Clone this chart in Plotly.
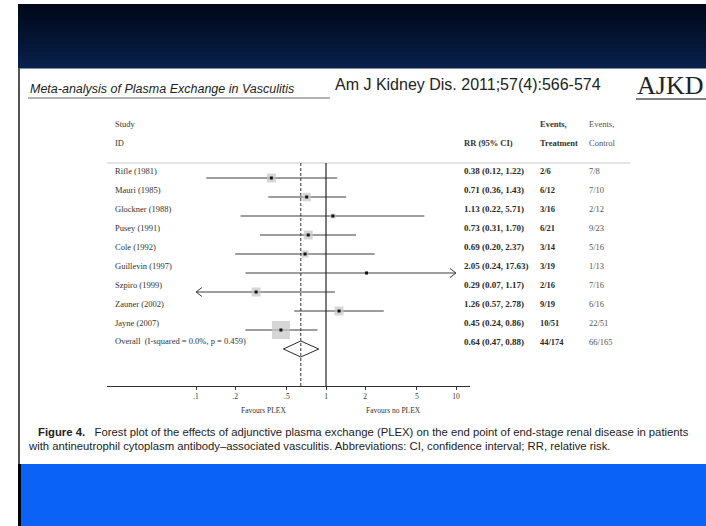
import math
import plotly.graph_objects as go

# ---------------- data ----------------
studies = ["Rifle (1981)", "Mauri (1985)", "Glockner (1988)", "Pusey (1991)", "Cole (1992)",
           "Guillevin (1997)", "Szpiro (1999)", "Zauner (2002)", "Jayne (2007)"]
rr = [0.38, 0.71, 1.13, 0.73, 0.69, 2.05, 0.29, 1.26, 0.45]
ci_lo = [0.12, 0.36, 0.22, 0.31, 0.20, 0.24, 0.07, 0.57, 0.24]
ci_hi = [1.22, 1.43, 5.71, 1.70, 2.37, 17.63, 1.17, 2.78, 0.86]
events_trt = ["2/6", "6/12", "3/16", "6/21", "3/14", "3/19", "2/16", "9/19", "10/51"]
events_ctl = ["7/8", "7/10", "2/12", "9/23", "5/16", "1/13", "7/16", "6/16", "22/51"]
weights = [9.0, 8.0, 2.8, 9.0, 5.5, 1.0, 9.0, 9.0, 36.0]  # approx. % weight (box area)

overall_label = "Overall  (I-squared = 0.0%, p = 0.459)"
overall_rr, overall_lo, overall_hi = 0.64, 0.47, 0.88
overall_trt, overall_ctl = "44/174", "66/165"

tick_vals = [0.1, 0.2, 0.5, 1, 2, 5, 10]
tick_text = [".1", ".2", ".5", "1", "2", "5", "10"]
x_min, x_max = 0.1, 10

W, H = 706, 526
SERIF = "Liberation Serif"
SANS = "Liberation Sans"


def px(x):
    return x / W


def py(y):
    return 1 - y / H


# layout geometry (pixels)
ROW0, ROWSTEP = 178, 19
AX_L, AX_R = 107, 470
X1_PX, DEC_PX = 326, 130
TOP_PX, AXIS_PX = 163, 386

n = len(studies)
rows = [-i for i in range(n)]
row_overall = -n

x_range = [(AX_L - X1_PX) / DEC_PX, (AX_R - X1_PX) / DEC_PX]
y_range = [-(AXIS_PX - ROW0) / ROWSTEP, -(TOP_PX - ROW0) / ROWSTEP]

fig = go.Figure()

# CI lines (clipped to axis range)
xs, ys = [], []
for v, lo, hi in zip(rows, ci_lo, ci_hi):
    xs += [max(lo, x_min), min(hi, x_max), None]
    ys += [v, v, None]
fig.add_trace(go.Scatter(x=xs, y=ys, mode="lines", line=dict(color="#3c3c3c", width=1),
                         hoverinfo="skip", showlegend=False))

# arrows for clipped CIs
d = 6 / DEC_PX
h = 4.5 / ROWSTEP
ax_, ay_ = [], []
for v, lo, hi in zip(rows, ci_lo, ci_hi):
    if lo < x_min:
        ax_ += [x_min * 10 ** d, x_min, x_min * 10 ** d, None]
        ay_ += [v + h, v, v - h, None]
    if hi > x_max:
        ax_ += [x_max / 10 ** d, x_max, x_max / 10 ** d, None]
        ay_ += [v + h, v, v - h, None]
fig.add_trace(go.Scatter(x=ax_, y=ay_, mode="lines", line=dict(color="#3c3c3c", width=1),
                         hoverinfo="skip", showlegend=False))

# weight boxes
sizes = [3.0 * math.sqrt(w) for w in weights]
fig.add_trace(go.Scatter(x=rr, y=rows, mode="markers",
                         marker=dict(symbol="square", size=sizes, color="#c4c4c4",
                                     line=dict(width=0)),
                         hoverinfo="skip", showlegend=False))
fig.add_trace(go.Scatter(x=rr, y=rows, mode="markers",
                         marker=dict(symbol="square", size=3, color="#111111"),
                         hoverinfo="skip", showlegend=False))

# overall diamond
dh = 8 / ROWSTEP
fig.add_trace(go.Scatter(x=[overall_lo, overall_rr, overall_hi, overall_rr, overall_lo],
                         y=[row_overall, row_overall + dh, row_overall, row_overall - dh, row_overall],
                         mode="lines", fill="toself", fillcolor="white",
                         line=dict(color="#2a2a2a", width=1), hoverinfo="skip", showlegend=False))

shapes = []
# background bands
top_c = (0, 8, 26)
bot_c = (8, 32, 74)
nstripe = 16
for k in range(nstripe):
    t = k / (nstripe - 1)
    c = tuple(int(top_c[j] + (bot_c[j] - top_c[j]) * t) for j in range(3))
    y0 = 4 + (68 - 4) * k / nstripe
    y1 = 4 + (68 - 4) * (k + 1) / nstripe
    shapes.append(dict(type="rect", xref="paper", yref="paper", x0=px(18), x1=1,
                       y0=py(y1 + 0.5), y1=py(y0), fillcolor="rgb(%d,%d,%d)" % c,
                       line=dict(width=0), layer="below"))
shapes.append(dict(type="rect", xref="paper", yref="paper", x0=px(20), x1=1, y0=0, y1=py(464),
                   fillcolor="#0a62f6", line=dict(width=0), layer="below"))
shapes.append(dict(type="line", xref="paper", yref="paper", x0=px(19), x1=px(19), y0=py(464), y1=py(68),
                   line=dict(color="#555555", width=2)))
shapes.append(dict(type="line", xref="paper", yref="paper", x0=px(19.5), x1=px(19.5), y0=0, y1=py(464),
                   line=dict(color="#000000", width=3)))
# header underlines
shapes.append(dict(type="line", xref="paper", yref="paper", x0=px(28), x1=px(330), y0=py(98), y1=py(98),
                   line=dict(color="#666666", width=1)))
shapes.append(dict(type="line", xref="paper", yref="paper", x0=px(636), x1=1, y0=py(99), y1=py(99),
                   line=dict(color="#555555", width=1.5)))
# table header rule
shapes.append(dict(type="line", xref="paper", yref="paper", x0=px(AX_L), x1=px(630), y0=py(TOP_PX), y1=py(TOP_PX),
                   line=dict(color="#c8c8c8", width=1)))
# null line and overall dashed line
shapes.append(dict(type="line", xref="x", yref="y domain", x0=1, x1=1, y0=0, y1=1,
                   line=dict(color="#222222", width=1.2)))
shapes.append(dict(type="line", xref="x", yref="y domain", x0=overall_rr, x1=overall_rr, y0=0, y1=1,
                   line=dict(color="#333333", width=1, dash="3px,2px")))

ann = []


def text(x, y, s, size, family=SERIF, color="#333333", xanchor="left", yanchor="middle"):
    ann.append(dict(x=px(x), y=py(y), xref="paper", yref="paper", text=s, showarrow=False,
                    xanchor=xanchor, yanchor=yanchor, font=dict(family=family, size=size, color=color)))


# titles
text(28, 89, "<i>Meta-analysis of Plasma Exchange in Vasculitis</i>", 12.5, SANS, "#222222")
text(333, 84, "Am J Kidney Dis. 2011;57(4):566-574", 16, SANS, "#222222")
text(635, 86, "AJKD", 26, SERIF, "#222222")

# column headers
text(113, 124, "Study", 8.5)
text(113, 143, "ID", 8.5)
text(462, 143, "<b>RR (95% CI)</b>", 8.5, color="#333333")
text(538, 124, "<b>Events,</b>", 8.5, color="#333333")
text(538, 143, "<b>Treatment</b>", 8.5, color="#333333")
text(587, 124, "Events,", 8.5, color="#555555")
text(587, 143, "Control", 8.5, color="#555555")


def row_text(xp, v, s, color="#333333", shift=7, size=8.5):
    ann.append(dict(x=px(xp), y=v, xref="paper", yref="y", yshift=shift, text=s, showarrow=False,
                    xanchor="left", yanchor="middle", font=dict(family=SERIF, size=size, color=color)))


for v, name, r, lo, hi, et, ec in zip(rows, studies, rr, ci_lo, ci_hi, events_trt, events_ctl):
    row_text(113, v, name)
    row_text(462, v, "<b>%.2f (%.2f, %.2f)</b>" % (r, lo, hi), "#2a2a2a", size=9)
    row_text(538, v, "<b>%s</b>" % et, "#2a2a2a")
    row_text(587, v, ec, "#555555")

row_text(113, row_overall, overall_label, shift=8)
row_text(462, row_overall, "<b>%.2f (%.2f, %.2f)</b>" % (overall_rr, overall_lo, overall_hi), "#2a2a2a", shift=7, size=9)
row_text(538, row_overall, "<b>%s</b>" % overall_trt, "#2a2a2a", shift=7)
row_text(587, row_overall, overall_ctl, "#555555", shift=7)

text(263, 410, "Favours PLEX", 7.5, xanchor="center")
text(393, 410, "Favours no PLEX", 7.5, xanchor="center")

# caption
text(36, 432, "<b>Figure 4.</b>   Forest plot of the effects of adjunctive plasma exchange (PLEX) on the end point of end-stage renal disease in patients",
     11.3, SANS, "#222222")
text(26, 446, "with antineutrophil cytoplasm antibody\u2013associated vasculitis. Abbreviations: CI, confidence interval; RR, relative risk.",
     11.3, SANS, "#222222")

fig.update_layout(
    width=W, height=H, autosize=False,
    margin=dict(l=0, r=0, t=0, b=0),
    paper_bgcolor="white", plot_bgcolor="rgba(0,0,0,0)",
    shapes=shapes, annotations=ann, showlegend=False,
    xaxis=dict(type="log", range=x_range, domain=[px(AX_L), px(AX_R)],
               tickvals=tick_vals, ticktext=tick_text, ticks="outside", ticklen=3,
               tickcolor="#333333", showline=True, linecolor="#333333", linewidth=1,
               showgrid=False, zeroline=False, anchor="y",
               tickfont=dict(family=SERIF, size=7.5, color="#333333")),
    yaxis=dict(range=y_range, domain=[py(AXIS_PX), py(TOP_PX)], visible=False,
               showgrid=False, zeroline=False),
)

fig.write_html("out.html", config={"displayModeBar": False},
               post_script="document.body.style.margin='0';document.body.style.overflow='hidden';")
